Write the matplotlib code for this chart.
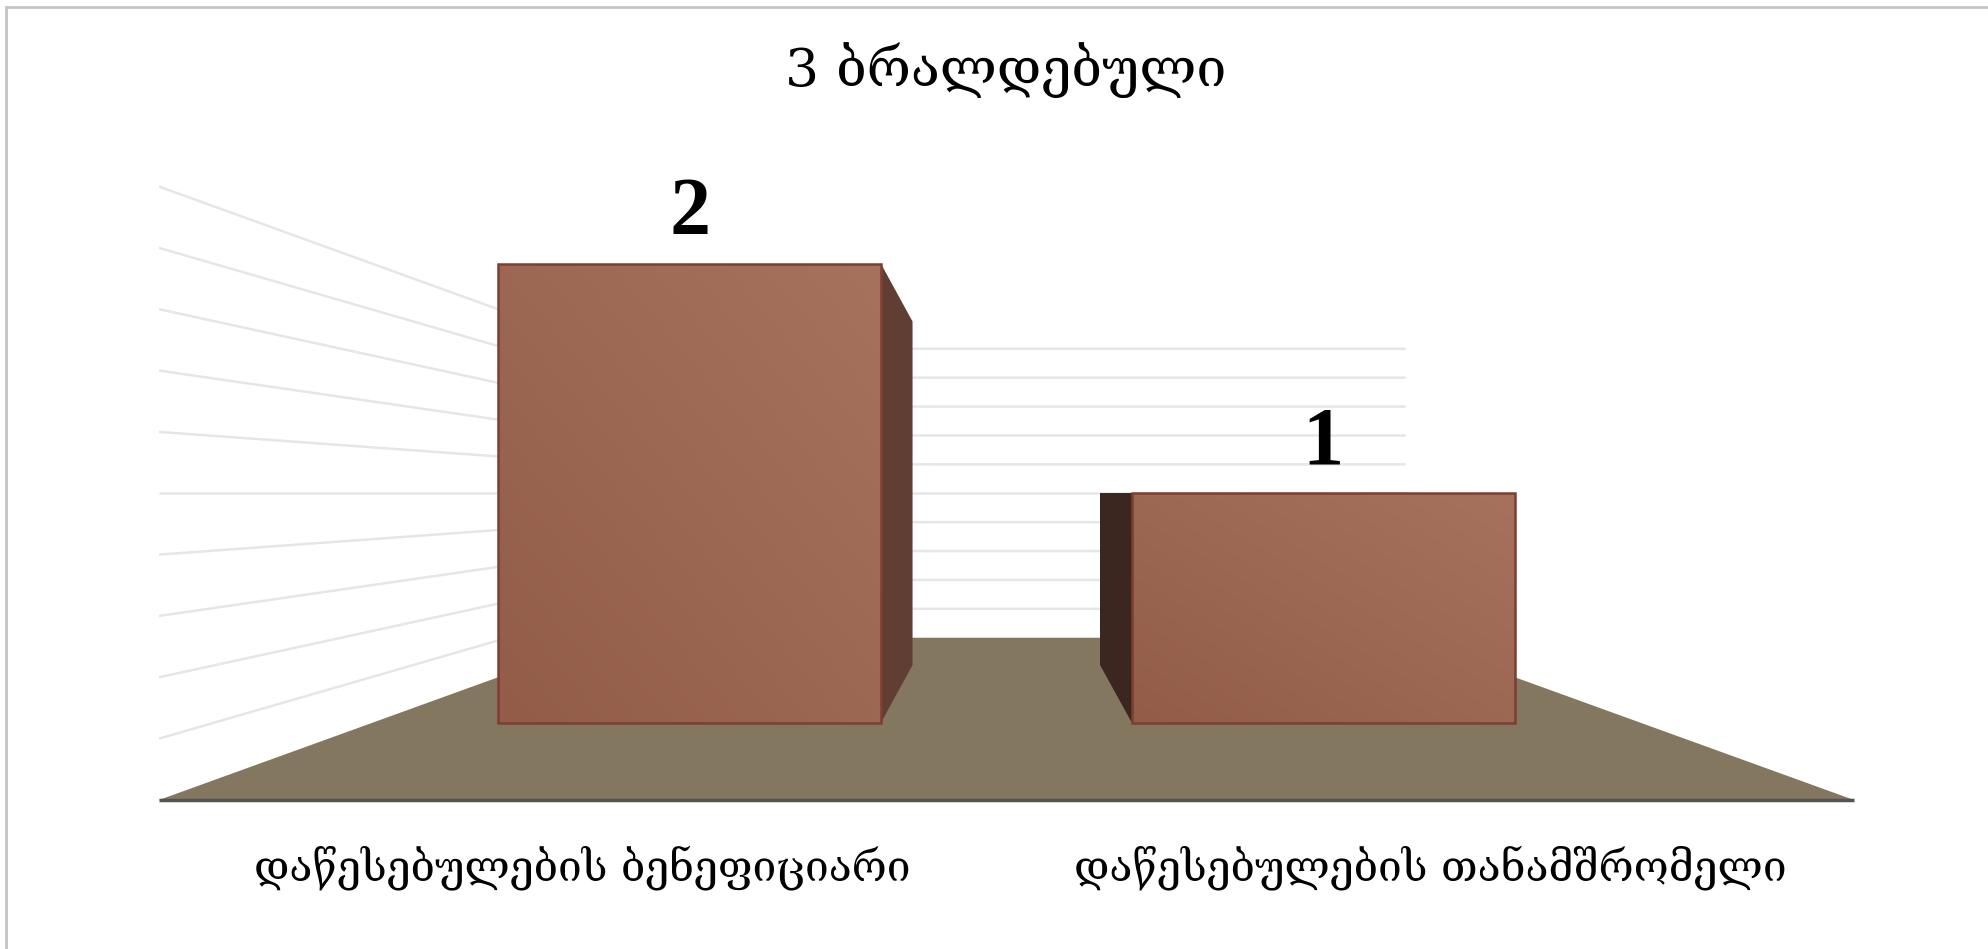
#
# 3D style column chart drawn on a plain axes
#

import numpy as np
import matplotlib.pyplot as plt
from matplotlib.patches import Polygon, Rectangle

plt.rcParams['font.family'] = ['DejaVu Serif', 'DejaVu Sans']

# The data
title = '3 ბრალდებული'
categories = ['დაწესებულების ბენეფიციარი', 'დაწესებულების თანამშრომელი']
values = [2, 1]
grid_values = [0.2, 0.4, 0.6, 0.8, 1.0, 1.2, 1.4, 1.6, 1.8, 2.0]

# Depth of the chart: 0 is the front edge of the floor, 1 the back wall
shrink = 0.529
depth_front = 0.477
depth_back = 0.832
bar_width = 0.604


def project(x, v, t):
    # Perspective: everything closes in on x=1, v=1 with depth
    s = 1 - shrink * t
    return 1 + (x - 1) * s, shrink * t + v * s


W, H = 1988, 949
fig = plt.figure(figsize=(W / 100, H / 100), dpi=100)
fig.add_artist(Rectangle((6 / W, -0.1), 2, 1.1 - 7 / H, transform=fig.transFigure,
                         facecolor='none', edgecolor='#c4c4c4', linewidth=2))
ax = fig.add_axes([159 / W, 1 - 800 / H, (1854 - 159) / W, (800 - 186.5) / H])
ax.set_xlim(0, 2)
ax.set_ylim(0, 2)
ax.axis('off')

# Gridlines on the left wall and the back wall
grid_color = '#e6e6e6'
for v in grid_values:
    p0 = project(0, v, 0)
    p1 = project(0, v, 1)
    p2 = project(2, v, 1)
    ax.plot([p0[0], p1[0], p2[0]], [p0[1], p1[1], p2[1]], color=grid_color, lw=1.8,
            solid_capstyle='butt', solid_joinstyle='miter', clip_on=False, zorder=1)

# Floor
floor = [project(0, 0, 0), project(2, 0, 0), project(2, 0, 1), project(0, 0, 1)]
ax.add_patch(Polygon(floor, closed=True, facecolor='#83775f', edgecolor='none', zorder=2))
ax.plot([0, 2], [0, 0], color='#55534e', lw=2.5, solid_capstyle='butt', clip_on=False, zorder=3)

# Gradient for the front of the bars, lighter to the top right
nx, ny = 64, 64
gx, gy = np.meshgrid(np.linspace(0, 1, nx), np.linspace(1, 0, ny))
g = (0.5 * gx + 0.5 * gy)[..., None]
light = np.array([0xa6, 0x72, 0x5e]) / 255
dark = np.array([0x92, 0x5c, 0x48]) / 255
gradient = dark + (light - dark) * g

edge_color = '#7f3d30'
for i, v in enumerate(values):
    centre = i + 0.5
    left = centre - bar_width / 2
    right = centre + bar_width / 2

    # The side we can see is the one facing the middle of the chart
    if centre < 1:
        side_x = right
        side_color = '#613e33'
    else:
        side_x = left
        side_color = '#3b2620'
    side = [project(side_x, 0, depth_front), project(side_x, v, depth_front),
            project(side_x, v, depth_back), project(side_x, 0, depth_back)]
    ax.add_patch(Polygon(side, closed=True, facecolor=side_color, edgecolor='none', zorder=4))

    x0, y0 = project(left, 0, depth_front)
    x1, y1 = project(right, v, depth_front)
    ax.imshow(gradient, extent=[x0, x1, y0, y1], aspect='auto', zorder=5, interpolation='bilinear')
    ax.add_patch(Rectangle((x0, y0), x1 - x0, y1 - y0, facecolor='none',
                           edgecolor=edge_color, linewidth=1.8, zorder=6))

    # Value label over the bar
    ax.annotate(str(v), xy=((x0 + x1) / 2, y1), xytext=(0, 30), textcoords='offset pixels',
                ha='center', va='baseline', fontsize=59, fontweight='bold',
                family='Liberation Serif', color='black', zorder=7)

    # Category label below the floor
    ax.annotate(categories[i], xy=(centre, 0), xytext=(0, -68), textcoords='offset pixels',
                ha='center', va='center', fontsize=30.6, color='black')

ax.set_xlim(0, 2)
ax.set_ylim(0, 2)

fig.text(1006 / W, 1 - 70 / H, title, ha='center', va='center', fontsize=38.5, color='black')

plt.savefig('out.png', dpi=100)
